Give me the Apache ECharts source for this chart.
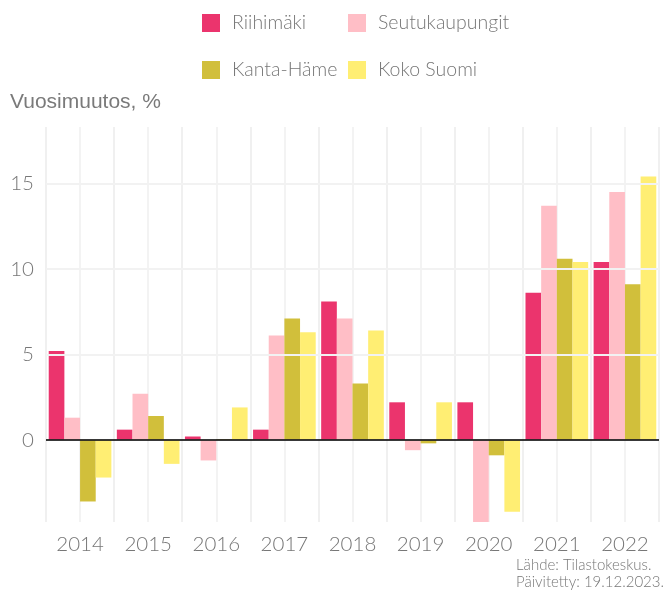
<!DOCTYPE html>
<html>
<head>
<meta charset="utf-8">
<script src="https://cdn.jsdelivr.net/npm/echarts@6/dist/echarts.min.js"></script>
<style>
  html, body { margin: 0; padding: 0; background: #fff; }
  #chart { width: 667px; height: 592px; }
</style>
</head>
<body>
<div id="chart"></div>
<script>
var years = ['2014', '2015', '2016', '2017', '2018', '2019', '2020', '2021', '2022'];
var seriesNames = ['Riihimäki', 'Seutukaupungit', 'Kanta-Häme', 'Koko Suomi'];
var riihimaki = [5.2, 0.6, 0.2, 0.6, 8.1, 2.2, 2.2, 8.6, 10.4];
var seutukaupungit = [1.3, 2.7, -1.2, 6.1, 7.1, -0.6, -4.8, 13.7, 14.5];
var kantaHame = [-3.6, 1.4, 0.05, 7.1, 3.3, -0.2, -0.9, 10.6, 9.1];
var kokoSuomi = [-2.2, -1.4, 1.9, 6.3, 6.4, 2.2, -4.2, 10.4, 15.4];
var colors = ['#eb346d', '#ffbec6', '#d1bf3b', '#ffee73'];
var gridValues = [5, 10, 15];

var chart = echarts.init(document.getElementById('chart'));

var font = 'Lato, sans-serif';
var values = [riihimaki, seutukaupungit, kantaHame, kokoSuomi];

// half-category slots, only for the extra vertical grid lines
var halfSlots = [];
for (var i = 0; i < years.length * 2; i++) halfSlots.push('h' + i);

// legend: 2 x 2, each item placed on its own
var legendPos = [[202, 13], [348, 13], [202, 60], [348, 60]];
var legends = seriesNames.map(function (name, i) {
  return {
    data: [name],
    left: legendPos[i][0],
    top: legendPos[i][1],
    padding: 0,
    icon: 'rect',
    itemWidth: 18,
    itemHeight: 18,
    selectedMode: false,
    textStyle: {
      color: '#777',
      fontSize: 19.5,
      fontWeight: 300,
      fontFamily: font,
      padding: [0, 0, 0, 7]
    }
  };
});

var series = seriesNames.map(function (name, i) {
  return {
    name: name,
    type: 'bar',
    data: values[i],
    itemStyle: { color: colors[i] },
    barGap: '0%',
    barCategoryGap: '8%',
    z: 2
  };
});

// horizontal grid lines, behind the bars
series.push({
  type: 'line',
  data: [],
  z: 1,
  silent: true,
  markLine: {
    silent: true,
    symbol: 'none',
    label: { show: false },
    lineStyle: { color: '#f2f2f2', width: 2, type: 'solid' },
    data: gridValues.map(function (v) { return { yAxis: v }; })
  }
});

// zero line on top
series.push({
  type: 'line',
  data: [],
  z: 5,
  silent: true,
  markLine: {
    silent: true,
    symbol: 'none',
    label: { show: false },
    lineStyle: { color: '#222', width: 2, type: 'solid', opacity: 0.9 },
    data: [{ yAxis: 0 }]
  }
});

var option = {
  animation: false,
  legend: legends,
  grid: { left: 46, right: 8, top: 127, bottom: 70 },
  xAxis: [
    {
      type: 'category',
      data: years,
      axisLine: { show: false },
      axisTick: { show: false },
      axisLabel: { color: '#777', fontSize: 20.5, fontWeight: 300, fontFamily: font, margin: 12 },
      splitLine: { show: true, lineStyle: { color: '#efefef', width: 1.5 } }
    },
    {
      type: 'category',
      data: halfSlots,
      position: 'bottom',
      axisLine: { show: false },
      axisTick: { show: false },
      axisLabel: { show: false },
      splitLine: { show: true, lineStyle: { color: '#efefef', width: 1.5 } }
    }
  ],
  yAxis: {
    type: 'value',
    min: -4.8,
    max: 18.3,
    axisLine: { show: false },
    axisTick: { show: false },
    splitLine: { show: false },
    axisLabel: {
      color: '#777',
      fontSize: 20.5,
      fontWeight: 300,
      fontFamily: font,
      margin: 12,
      showMinLabel: false,
      showMaxLabel: false
    }
  },
  graphic: [
    {
      type: 'text',
      left: 10,
      top: 92,
      style: { text: 'Vuosimuutos, %', fill: '#7a7a7a', fontSize: 21, fontFamily: '"Liberation Sans", Arial, sans-serif' }
    },
    {
      type: 'text',
      right: 3,
      top: 557,
      style: {
        text: 'Lähde: Tilastokeskus.\nPäivitetty: 19.12.2023.',
        fill: '#777',
        fontSize: 15,
        fontWeight: 300,
        lineHeight: 17,
        align: 'right',
        fontFamily: font
      }
    }
  ],
  series: series
};

chart.setOption(option);
</script>
</body>
</html>
